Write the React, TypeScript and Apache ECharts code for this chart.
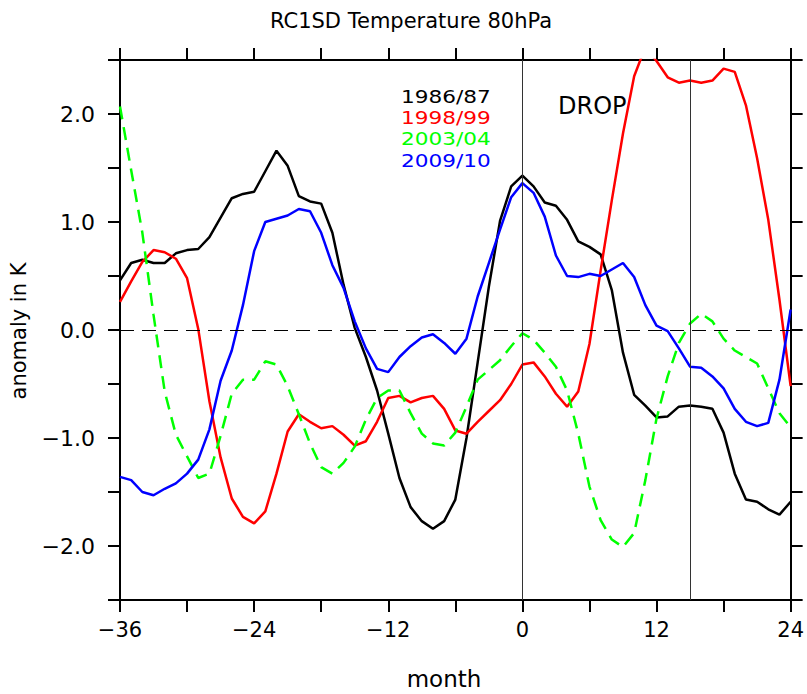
import React, { useEffect, useRef } from "react";
import * as echarts from "echarts";

// Months relative to the event (x axis positions of each monthly value)
const months: number[] = [
  -36, -35, -34, -33, -32, -31, -30, -29, -28, -27, -26, -25, -24, -23, -22, -21,
  -20, -19, -18, -17, -16, -15, -14, -13, -12, -11, -10, -9, -8, -7, -6, -5, -4,
  -3, -2, -1, 0, 1, 2, 3, 4, 5, 6, 7, 8, 9, 10, 11, 12, 13, 14, 15, 16, 17, 18,
  19, 20, 21, 22, 23, 24,
];

const winter1986: number[] = [
  0.46, 0.62, 0.65, 0.62, 0.62, 0.71, 0.74, 0.75, 0.86, 1.04, 1.22, 1.26, 1.28,
  1.47, 1.66, 1.52, 1.24, 1.19, 1.17, 0.9, 0.42, 0.02, -0.25, -0.56, -0.96,
  -1.37, -1.64, -1.77, -1.84, -1.77, -1.57, -1.0, -0.3, 0.4, 1.01, 1.33, 1.43,
  1.33, 1.18, 1.15, 1.02, 0.82, 0.77, 0.7, 0.37, -0.21, -0.6, -0.7, -0.81, -0.8,
  -0.71, -0.7, -0.71, -0.73, -0.95, -1.33, -1.57, -1.59, -1.66, -1.71, -1.59,
];

const winter1998: number[] = [
  0.26, 0.45, 0.63, 0.74, 0.72, 0.66, 0.48, 0.01, -0.66, -1.18, -1.56, -1.73,
  -1.79, -1.68, -1.33, -0.94, -0.78, -0.85, -0.91, -0.89, -0.97, -1.07, -1.03,
  -0.85, -0.63, -0.61, -0.67, -0.63, -0.61, -0.73, -0.93, -0.96, -0.85, -0.75,
  -0.65, -0.5, -0.32, -0.3, -0.43, -0.59, -0.71, -0.57, -0.13, 0.55, 1.2, 1.82,
  2.35, 2.62, 2.49, 2.34, 2.29, 2.31, 2.29, 2.31, 2.42, 2.39, 2.08, 1.59, 1.02,
  0.28, -0.52,
];

const winter2003: number[] = [
  2.07, 1.48, 0.9, 0.14, -0.57, -0.97, -1.17, -1.37, -1.33, -0.98, -0.59, -0.46,
  -0.46, -0.29, -0.32, -0.52, -0.78, -1.05, -1.27, -1.33, -1.23, -1.08, -0.83,
  -0.63, -0.56, -0.56, -0.77, -0.96, -1.05, -1.07, -0.95, -0.71, -0.46, -0.37,
  -0.28, -0.15, -0.03, -0.09, -0.21, -0.34, -0.56, -0.96, -1.45, -1.76, -1.94,
  -2.01, -1.88, -1.39, -0.82, -0.43, -0.12, 0.06, 0.15, 0.08, -0.08, -0.19,
  -0.25, -0.31, -0.54, -0.77, -0.9,
];

const winter2009: number[] = [
  -1.36, -1.39, -1.5, -1.53, -1.47, -1.42, -1.33, -1.2, -0.92, -0.47, -0.19,
  0.23, 0.73, 1.0, 1.03, 1.06, 1.12, 1.1, 0.9, 0.6, 0.39, 0.08, -0.17, -0.36,
  -0.39, -0.25, -0.15, -0.07, -0.04, -0.12, -0.22, -0.08, 0.31, 0.62, 0.93, 1.23,
  1.36, 1.27, 1.05, 0.69, 0.5, 0.49, 0.52, 0.5, 0.56, 0.62, 0.49, 0.23, 0.04,
  -0.01, -0.17, -0.34, -0.35, -0.43, -0.54, -0.73, -0.85, -0.89, -0.86, -0.46,
  0.19,
];

const seriesNames: string[] = ["1986/87", "1998/99", "2003/04", "2009/10"];
const seriesColors: string[] = ["#000000", "#ff0000", "#00ff00", "#0000ff"];

// Vertical reference lines (event month and end of the drop period)
const markerMonths: number[] = [0, 15];

const FONT = "'DejaVu Sans', sans-serif";

const minus = (s: string) => s.replace("-", "\u2212");

function pairs(values: number[]): number[][] {
  return months.map((m, i) => [m, values[i]]);
}

export default function App() {
  const ref = useRef<HTMLDivElement>(null);

  useEffect(() => {
    if (!ref.current) return;
    const chart = echarts.init(ref.current, undefined, { renderer: "svg" });

    const axisLine = { show: true, onZero: false, lineStyle: { color: "#000", width: 2 } };
    const axisTick = { show: true, inside: false, length: 12, lineStyle: { color: "#000", width: 2 } };

    const xBase = {
      type: "value" as const,
      min: -36,
      max: 24,
      interval: 6,
      axisLine,
      axisTick,
      splitLine: { show: false },
    };
    const yBase = {
      type: "value" as const,
      min: -2.5,
      max: 2.5,
      interval: 0.5,
      axisLine,
      axisTick,
      splitLine: { show: false },
    };

    const allValues = [winter1986, winter1998, winter2003, winter2009];

    const lineSeries = allValues.map((vals, i) => ({
      type: "line" as const,
      name: seriesNames[i],
      data: pairs(vals),
      symbol: "none",
      clip: true,
      z: 3,
      lineStyle: {
        color: seriesColors[i],
        width: 2.5,
        type: i === 2 ? [13, 8] : "solid",
      },
    }));

    const centered = { align: "center", verticalAlign: "middle", textAlign: "center", textVerticalAlign: "middle" };
    const leftMid = { align: "left", verticalAlign: "middle", textAlign: "left", textVerticalAlign: "middle" };

    const option: any = {
      animation: false,
      grid: { left: 120, right: 15, top: 60, bottom: 94, containLabel: false },
      xAxis: [
        {
          ...xBase,
          position: "bottom",
          axisLabel: {
            fontSize: 21,
            fontFamily: FONT,
            color: "#000",
            margin: 19,
            formatter: (v: number) => (v % 12 === 0 ? minus(String(v)) : ""),
          },
        },
        { ...xBase, position: "top", axisLabel: { show: false } },
      ],
      yAxis: [
        {
          ...yBase,
          position: "left",
          axisLabel: {
            fontSize: 22,
            fontFamily: FONT,
            color: "#000",
            margin: 25,
            formatter: (v: number) =>
              Math.abs(v - Math.round(v)) < 1e-6 && Math.abs(v) < 2.4
                ? minus(v.toFixed(1))
                : "",
          },
        },
        { ...yBase, position: "right", axisLabel: { show: false } },
      ],
      series: [
        {
          type: "line",
          data: [],
          z: 1,
          markLine: {
            silent: true,
            symbol: "none",
            label: { show: false },
            data: [
              ...markerMonths.map((m) => ({
                xAxis: m,
                lineStyle: { color: "#333", width: 1, type: "solid" },
              })),
              { yAxis: 0, lineStyle: { color: "#000", width: 1, type: [14, 8] } },
            ],
          },
        },
        ...lineSeries,
      ],
      graphic: [
        {
          type: "text",
          x: 411,
          y: 21,
          style: { text: "RC1SD Temperature 80hPa", font: `21px ${FONT}`, fill: "#000", ...centered },
        },
        // year legend, stacked lines in each series' colour
        ...seriesNames.map((name, i) => ({
          type: "text",
          x: 401,
          y: 97 + i * 21.3,
          scaleX: 1.2,
          style: { text: name, font: `18px ${FONT}`, fill: seriesColors[i], ...leftMid },
        })),
        {
          type: "text",
          x: 558,
          y: 106,
          style: { text: "DROP", font: `24px ${FONT}`, fill: "#000", ...leftMid },
        },
        {
          type: "text",
          x: 19,
          y: 331,
          rotation: Math.PI / 2,
          style: { text: "anomaly in K", font: `21px ${FONT}`, fill: "#000", ...centered },
        },
        {
          type: "text",
          x: 444,
          y: 679,
          style: { text: "month", font: `23px ${FONT}`, fill: "#000", ...centered },
        },
      ],
    };

    chart.setOption(option);
    return () => chart.dispose();
  }, []);

  return (
    <div
      ref={ref}
      style={{ position: "fixed", left: 0, top: 0, width: 807, height: 694, background: "#fff" }}
    />
  );
}
